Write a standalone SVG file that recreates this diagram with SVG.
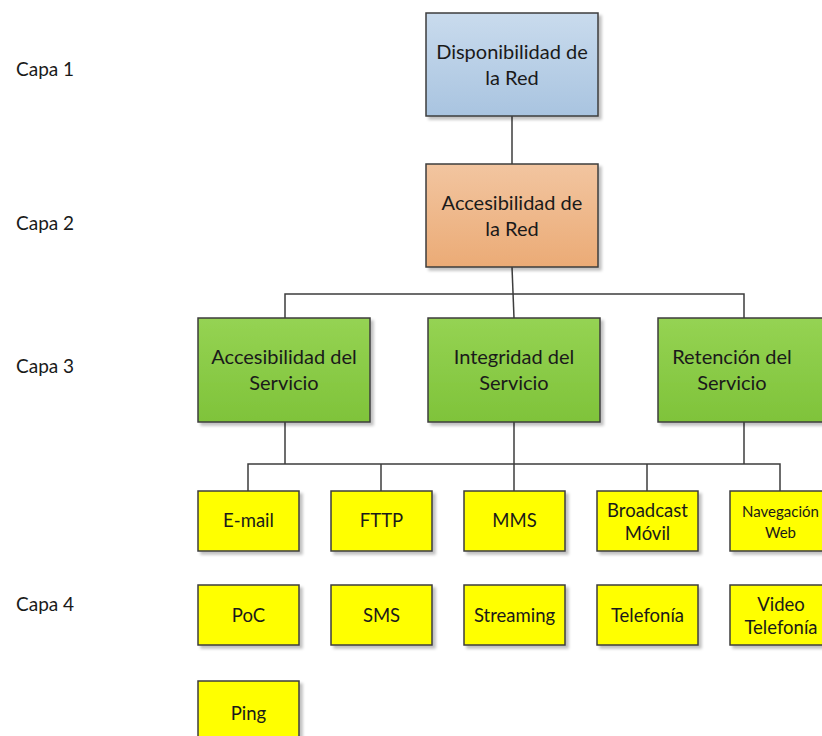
<svg xmlns="http://www.w3.org/2000/svg" width="822" height="736" viewBox="0 0 822 736">
  <defs>
    <linearGradient id="gBlue" x1="0" y1="0" x2="0" y2="1">
      <stop offset="0" stop-color="#c9dbed"/>
      <stop offset="1" stop-color="#a9c4e0"/>
    </linearGradient>
    <linearGradient id="gOrange" x1="0" y1="0" x2="0" y2="1">
      <stop offset="0" stop-color="#f2c5a0"/>
      <stop offset="1" stop-color="#ebab76"/>
    </linearGradient>
    <linearGradient id="gGreen" x1="0" y1="0" x2="0" y2="1">
      <stop offset="0" stop-color="#95d353"/>
      <stop offset="1" stop-color="#7fc33a"/>
    </linearGradient>
    <filter id="shadow" x="-10%" y="-10%" width="125%" height="130%">
      <feGaussianBlur in="SourceAlpha" stdDeviation="1.5"/>
      <feOffset dx="3" dy="3" result="b"/>
      <feComponentTransfer><feFuncA type="linear" slope="0.25"/></feComponentTransfer>
      <feMerge><feMergeNode/><feMergeNode in="SourceGraphic"/></feMerge>
    </filter>
  </defs>
  <style>
    .box { stroke: #3d3d3d; stroke-width: 1.5; filter: url(#shadow); }
    .blue { fill: url(#gBlue); }
    .orange { fill: url(#gOrange); }
    .green { fill: url(#gGreen); }
    .yellow { fill: #ffff00; }
    text { font-family: Lato, "Open Sans", sans-serif; fill: #1a1a1a; text-anchor: middle; }
    .big { font-size: 20px; }
    .mid { font-size: 18.5px; }
    .small { font-size: 15px; }
    .layer { font-size: 19px; text-anchor: start; }
    .wire { fill: none; stroke: #3d3d3d; stroke-width: 1.5; }
  </style>

  <!-- layer captions -->
  <g id="layers">
    <text class="layer" x="16" y="76">Capa 1</text>
    <text class="layer" x="16" y="230">Capa 2</text>
    <text class="layer" x="16" y="373">Capa 3</text>
    <text class="layer" x="16" y="611">Capa 4</text>
  </g>

  <!-- connectors -->
  <g id="connectors">
    <path class="wire" d="M512 116 V164"/>
    <path class="wire" d="M512 267 L514 318"/>
    <path class="wire" d="M285 318 V294 H744 V318"/>
    <path class="wire" d="M285 422 V464"/>
    <path class="wire" d="M514 422 V491"/>
    <path class="wire" d="M744 422 V464"/>
    <path class="wire" d="M248 491 V464 H780 V491"/>
    <path class="wire" d="M381 464 V491"/>
    <path class="wire" d="M647 464 V491"/>
  </g>

  <g id="disponibilidad">
    <rect class="box blue" x="426" y="13" width="172" height="103"/>
    <text class="big" x="512" y="59">Disponibilidad de</text>
    <text class="big" x="512" y="85">la Red</text>
  </g>

  <g id="accesibilidad-red">
    <rect class="box orange" x="426" y="164" width="172" height="103"/>
    <text class="big" x="512" y="210">Accesibilidad de</text>
    <text class="big" x="512" y="236">la Red</text>
  </g>

  <g id="accesibilidad-servicio">
    <rect class="box green" x="198" y="318" width="172" height="104"/>
    <text class="big" x="284" y="364">Accesibilidad del</text>
    <text class="big" x="284" y="390">Servicio</text>
  </g>

  <g id="integridad-servicio">
    <rect class="box green" x="428" y="318" width="172" height="104"/>
    <text class="big" x="514" y="364">Integridad del</text>
    <text class="big" x="514" y="390">Servicio</text>
  </g>

  <g id="retencion-servicio">
    <rect class="box green" x="658" y="318" width="172" height="104"/>
    <text class="big" x="732" y="364">Retención del</text>
    <text class="big" x="732" y="390">Servicio</text>
  </g>

  <!-- services, row 1 -->
  <g id="email">
    <rect class="box yellow" x="198" y="491" width="101" height="60"/>
    <text class="mid" x="248.5" y="527">E-mail</text>
  </g>
  <g id="fttp">
    <rect class="box yellow" x="331" y="491" width="101" height="60"/>
    <text class="mid" x="381.5" y="527">FTTP</text>
  </g>
  <g id="mms">
    <rect class="box yellow" x="464" y="491" width="101" height="60"/>
    <text class="mid" x="514.5" y="527">MMS</text>
  </g>
  <g id="broadcast">
    <rect class="box yellow" x="597" y="491" width="101" height="60"/>
    <text class="mid" x="647.5" y="517">Broadcast</text>
    <text class="mid" x="647.5" y="540">Móvil</text>
  </g>
  <g id="navegacion">
    <rect class="box yellow" x="730" y="491" width="101" height="60"/>
    <text class="small" x="780.5" y="517">Navegación</text>
    <text class="small" x="780.5" y="538">Web</text>
  </g>

  <!-- services, row 2 -->
  <g id="poc">
    <rect class="box yellow" x="198" y="585" width="101" height="60"/>
    <text class="mid" x="248.5" y="622">PoC</text>
  </g>
  <g id="sms">
    <rect class="box yellow" x="331" y="585" width="101" height="60"/>
    <text class="mid" x="381.5" y="622">SMS</text>
  </g>
  <g id="streaming">
    <rect class="box yellow" x="464" y="585" width="101" height="60"/>
    <text class="mid" x="514.5" y="622">Streaming</text>
  </g>
  <g id="telefonia">
    <rect class="box yellow" x="597" y="585" width="101" height="60"/>
    <text class="mid" x="647.5" y="622">Telefonía</text>
  </g>
  <g id="video-telefonia">
    <rect class="box yellow" x="730" y="585" width="101" height="60"/>
    <text class="mid" x="781" y="611">Video</text>
    <text class="mid" x="781" y="634">Telefonía</text>
  </g>

  <!-- services, row 3 -->
  <g id="ping">
    <rect class="box yellow" x="198" y="681" width="101" height="60"/>
    <text class="mid" x="248.5" y="720">Ping</text>
  </g>
</svg>
